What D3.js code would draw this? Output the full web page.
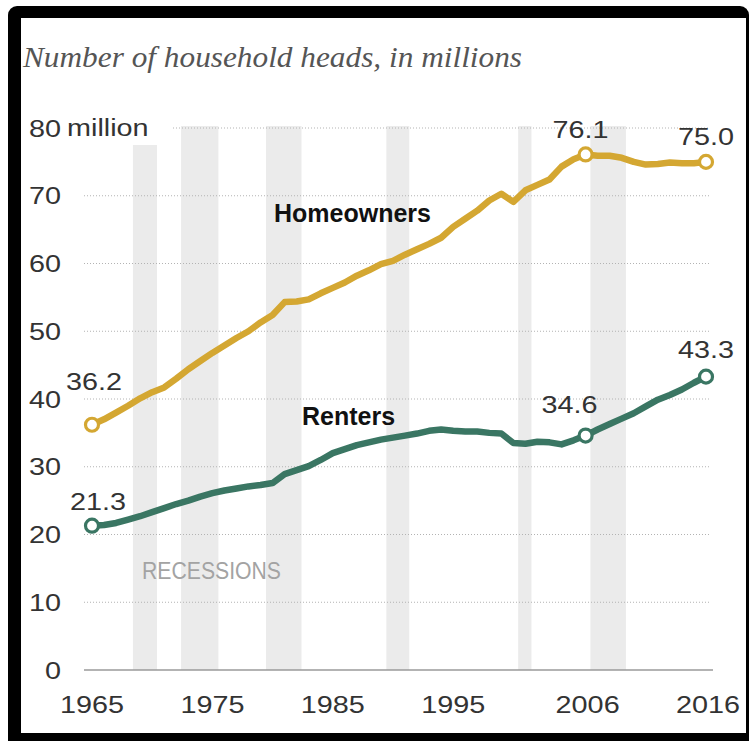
<!DOCTYPE html>
<html>
<head>
<meta charset="utf-8">
<script src="https://cdn.jsdelivr.net/npm/d3@7"></script>
<style>
  html, body { margin: 0; padding: 0; background: #fff; }
  svg { display: block; }
</style>
</head>
<body>
<svg id="chart" width="751" height="741"></svg>
<script>
// Household heads by tenure, millions, one value per year 1965–2016
const years = d3.range(1965, 2017);
const homeowners = [
  36.2, 37.0, 38.0, 39.0, 40.1, 41.0, 41.7, 43.0, 44.4, 45.6,
  46.8, 47.9, 49.0, 50.0, 51.3, 52.4, 54.3, 54.4, 54.7, 55.6,
  56.4, 57.2, 58.2, 59.0, 59.9, 60.4, 61.3, 62.1, 62.9, 63.8,
  65.4, 66.6, 67.8, 69.3, 70.3, 69.1, 70.8, 71.6, 72.4, 74.3,
  75.4, 76.1, 75.9, 75.9, 75.6, 75.0, 74.6, 74.7, 74.9, 74.8,
  74.8, 75.0
];
const renters = [
  21.3, 21.4, 21.7, 22.2, 22.7, 23.3, 23.9, 24.5, 25.0, 25.6,
  26.1, 26.5, 26.8, 27.1, 27.3, 27.6, 28.9, 29.5, 30.1, 31.0,
  32.0, 32.6, 33.2, 33.6, 34.0, 34.3, 34.6, 34.9, 35.3, 35.5,
  35.3, 35.2, 35.2, 35.0, 34.9, 33.5, 33.4, 33.7, 33.6, 33.3,
  33.9, 34.6, 35.5, 36.3, 37.1, 37.9, 38.9, 39.9, 40.6, 41.4,
  42.4, 43.3
];
// Recession periods (in the chart's year units)
const recessionStarts = [1968.4, 1972.4, 1979.45, 1989.45, 2000.4, 2006.4];
const recessionEnds   = [1970.4, 1975.5, 1982.4, 1991.35, 2001.5, 2009.35];
const yTicks = [0, 10, 20, 30, 40, 50, 60, 70, 80];
const xTicks = [1965, 1975, 1985, 1995, 2006, 2016];
const labelYears = [1965, 2006, 2016];

const svg = d3.select("#chart");
const SX = 1.2; // horizontal stretch of the sans labels

// frame
svg.append("rect").attr("x", 8).attr("y", 6).attr("width", 741).attr("height", 745)
  .attr("rx", 9).attr("fill", "#000");
svg.append("rect").attr("x", 21).attr("y", 18).attr("width", 725).attr("height", 715)
  .attr("fill", "#fff");

// subtitle
svg.append("text")
  .attr("x", 23).attr("y", 67)
  .attr("font-family", "'Liberation Serif', serif")
  .attr("font-style", "italic")
  .attr("font-size", 28.5)
  .attr("fill", "#555")
  .attr("textLength", 499)
  .attr("lengthAdjust", "spacingAndGlyphs")
  .text("Number of household heads, in millions");

const x = d3.scaleLinear().domain([1965, 2016]).range([92, 706]);
const y = d3.scaleLinear().domain([0, 80]).range([670, 128]);

// recession bands
const bands = recessionStarts.map((s, i) => ({ s, e: recessionEnds[i], first: i === 0 }));
svg.append("g").selectAll("rect").data(bands).join("rect")
  .attr("x", d => x(d.s))
  .attr("width", d => x(d.e) - x(d.s))
  .attr("y", d => d.first ? 145 : 126)
  .attr("height", d => y(0) - (d.first ? 145 : 126))
  .attr("fill", "#ebebeb");

// gridlines
svg.append("g").selectAll("line").data(yTicks.filter(v => v > 0)).join("line")
  .attr("x1", v => v === 80 ? 173 : 84)
  .attr("x2", 709)
  .attr("y1", v => y(v)).attr("y2", v => y(v))
  .attr("stroke", "#b3b3b3")
  .attr("stroke-width", 1)
  .attr("stroke-dasharray", "1,2");

svg.append("line")
  .attr("x1", 84).attr("x2", 713)
  .attr("y1", y(0)).attr("y2", y(0))
  .attr("stroke", "#9a9a9a").attr("stroke-width", 1.6);

const sans = "'Liberation Sans', Arial, sans-serif";

// y axis
const yAxis = svg.append("g").attr("transform", "translate(61,0)")
  .call(d3.axisLeft(y).tickValues(yTicks).tickSize(0).tickPadding(0));
yAxis.select(".domain").remove();
yAxis.selectAll("text")
  .attr("x", 0)
  .attr("dy", "0.34em")
  .attr("transform", `scale(${SX},1)`)
  .attr("font-family", sans).attr("font-size", 24).attr("fill", "#333");

svg.append("text")
  .attr("transform", `translate(67,${y(80)}) scale(${SX},1)`)
  .attr("dy", "0.34em")
  .attr("font-family", sans).attr("font-size", 24).attr("fill", "#333")
  .text("million");

// x axis
const xAxis = svg.append("g").attr("transform", "translate(0,713)")
  .call(d3.axisBottom(x).tickValues(xTicks).tickSize(0).tickPadding(0).tickFormat(d3.format("d")));
xAxis.select(".domain").remove();
xAxis.selectAll("text")
  .attr("y", 0).attr("dy", 0)
  .attr("transform", `scale(${SX},1)`)
  .attr("font-family", sans).attr("font-size", 24).attr("fill", "#333");
xAxis.selectAll(".tick").attr("transform", d => `translate(${x(d) + (d > 2000 ? 2 : 0)},0)`);

// RECESSIONS label
svg.append("text")
  .attr("x", 142).attr("y", 579)
  .attr("font-family", sans).attr("font-size", 23.5).attr("fill", "#a3a3a3")
  .attr("textLength", 139).attr("lengthAdjust", "spacingAndGlyphs")
  .text("RECESSIONS");

// lines
const series = [
  { name: "Homeowners", values: homeowners, color: "#d4a732" },
  { name: "Renters", values: renters, color: "#3a7663" }
];
const line = d3.line().x((d, i) => x(years[i])).y(d => y(d)).curve(d3.curveLinear);

series.forEach(s => {
  svg.append("path")
    .attr("d", line(s.values))
    .attr("fill", "none")
    .attr("stroke", s.color)
    .attr("stroke-width", 6.5)
    .attr("stroke-linejoin", "round")
    .attr("stroke-linecap", "round");
});

// marker circles
series.forEach(s => {
  svg.append("g").selectAll("circle").data(labelYears).join("circle")
    .attr("cx", yr => x(yr))
    .attr("cy", yr => y(s.values[years.indexOf(yr)]))
    .attr("r", 6.5)
    .attr("fill", "#fff")
    .attr("stroke", s.color)
    .attr("stroke-width", 3.2);
});

// value labels: offsets from each marked point
const labelOffsets = {
  Homeowners: { 1965: [2, -35], 2006: [-5, -16], 2016: [0, -17] },
  Renters:    { 1965: [6, -16], 2006: [-16, -23], 2016: [0, -19] }
};
series.forEach(s => {
  labelYears.forEach(yr => {
    const v = s.values[years.indexOf(yr)];
    const [dx, dy] = labelOffsets[s.name][yr];
    svg.append("text")
      .attr("transform", `translate(${x(yr) + dx},${y(v) + dy}) scale(${SX},1)`)
      .attr("text-anchor", "middle")
      .attr("font-family", sans).attr("font-size", 24).attr("fill", "#333")
      .text(d3.format(".1f")(v));
  });
});

// series names
svg.append("text")
  .attr("x", 274).attr("y", 222)
  .attr("font-family", sans).attr("font-weight", "bold").attr("font-size", 25).attr("fill", "#111")
  .text("Homeowners");
svg.append("text")
  .attr("x", 302).attr("y", 425)
  .attr("font-family", sans).attr("font-weight", "bold").attr("font-size", 25).attr("fill", "#111")
  .text("Renters");
</script>
</body>
</html>
